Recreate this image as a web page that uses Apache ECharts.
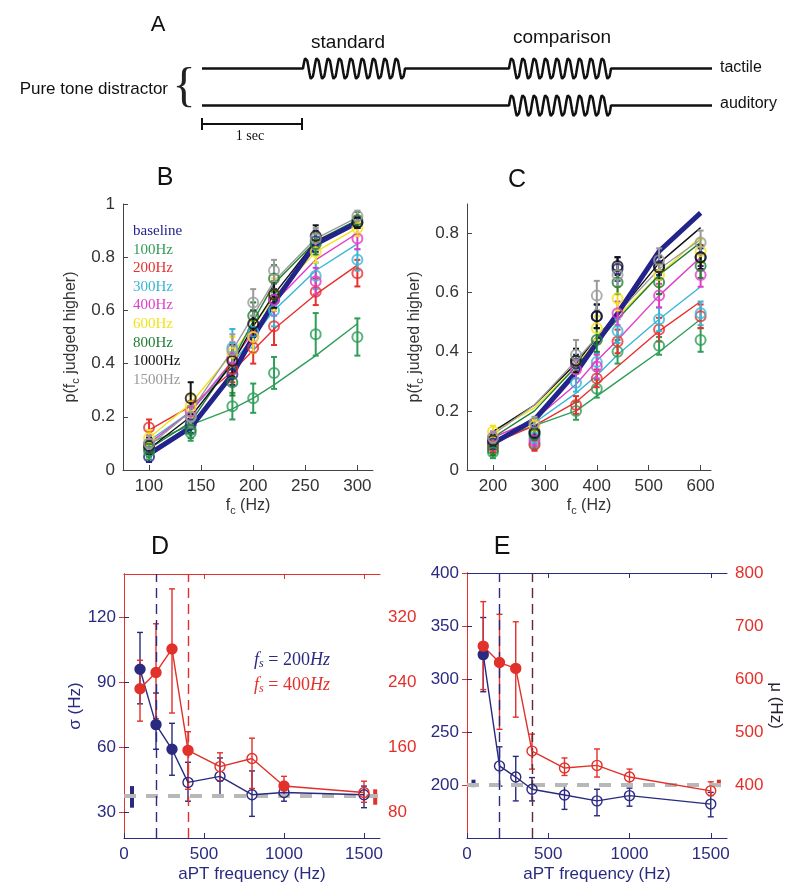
<!DOCTYPE html>
<html>
<head>
<meta charset="utf-8">
<script src="https://cdn.jsdelivr.net/npm/echarts@6/dist/echarts.min.js"></script>
<style>
  html, body { margin: 0; padding: 0; background: #fff; }
  #main { width: 800px; height: 896px; }
</style>
</head>
<body>
<div id="main"></div>
<script>
// ---- panel A : trial schematic (seconds) ----
const standardWindow = [1.01, 2.03]
const comparisonWindow = [3.07, 4.09]
const trialEnd = 5.1
const sineCycles = 9
const sineAmp = 0.3
const scaleBar = [[0, -0.5], [1, -0.5]]

// ---- panels B / C : psychometric curves ----
const conditions = ['baseline', '100Hz', '200Hz', '300Hz', '400Hz', '600Hz', '800Hz', '1000Hz', '1500Hz']
const condColors = ['#23238c', '#2e9e58', '#e8302e', '#38b6d6', '#e03cc8', '#f2e31a', '#1f7f33', '#111111', '#9a9a9a']

const fcB = [100, 140, 180, 200, 220, 260, 300]
const pointsB = [
  [0.05, 0.17, 0.36, 0.52, 0.64, 0.86, 0.93],
  [0.07, 0.14, 0.24, 0.27, 0.365, 0.51, 0.50],
  [0.16, 0.20, 0.38, 0.46, 0.54, 0.67, 0.74],
  [0.09, 0.20, 0.46, 0.52, 0.60, 0.73, 0.79],
  [0.10, 0.22, 0.42, 0.50, 0.64, 0.71, 0.87],
  [0.12, 0.24, 0.44, 0.50, 0.66, 0.82, 0.91],
  [0.08, 0.15, 0.33, 0.58, 0.72, 0.85, 0.94],
  [0.09, 0.27, 0.41, 0.55, 0.66, 0.88, 0.93],
  [0.10, 0.20, 0.45, 0.63, 0.75, 0.87, 0.955]
]
const fitB = [
  [0.06, 0.16, 0.36, 0.50, 0.63, 0.85, 0.93],
  [0.10, 0.17, 0.23, 0.27, 0.32, 0.43, 0.55],
  [0.15, 0.24, 0.37, 0.45, 0.53, 0.66, 0.77],
  [0.11, 0.22, 0.40, 0.50, 0.60, 0.75, 0.85],
  [0.10, 0.22, 0.41, 0.52, 0.63, 0.79, 0.89],
  [0.12, 0.25, 0.44, 0.54, 0.65, 0.82, 0.91],
  [0.08, 0.18, 0.41, 0.56, 0.70, 0.86, 0.94],
  [0.08, 0.20, 0.40, 0.54, 0.66, 0.86, 0.93],
  [0.09, 0.22, 0.45, 0.58, 0.71, 0.87, 0.95]
]
const errB = [
  [0.02, 0.03, 0.04, 0.04, 0.04, 0.04, 0.02],
  [0.03, 0.03, 0.05, 0.055, 0.06, 0.08, 0.07],
  [0.03, 0.04, 0.05, 0.06, 0.07, 0.05, 0.05],
  [0.03, 0.04, 0.07, 0.06, 0.06, 0.05, 0.04],
  [0.03, 0.04, 0.06, 0.06, 0.06, 0.05, 0.04],
  [0.03, 0.04, 0.06, 0.06, 0.06, 0.04, 0.03],
  [0.03, 0.03, 0.05, 0.05, 0.05, 0.04, 0.03],
  [0.03, 0.06, 0.06, 0.05, 0.05, 0.04, 0.02],
  [0.03, 0.04, 0.06, 0.05, 0.04, 0.04, 0.02]
]

const fcC = [200, 280, 360, 400, 440, 520, 600]
const pointsC = [
  [0.09, 0.13, 0.36, 0.52, 0.68, 0.69, 0.72],
  [0.06, 0.09, 0.20, 0.275, 0.40, 0.42, 0.44],
  [0.08, 0.085, 0.22, 0.31, 0.435, 0.475, 0.52],
  [0.10, 0.11, 0.295, 0.365, 0.47, 0.51, 0.53],
  [0.11, 0.10, 0.34, 0.35, 0.53, 0.59, 0.66],
  [0.13, 0.15, 0.37, 0.48, 0.58, 0.66, 0.74],
  [0.07, 0.12, 0.37, 0.44, 0.635, 0.635, 0.69],
  [0.10, 0.125, 0.37, 0.52, 0.69, 0.685, 0.72],
  [0.11, 0.16, 0.39, 0.59, 0.66, 0.71, 0.77]
]
const fitC = [
  [0.09, 0.17, 0.33, 0.43, 0.53, 0.74, 0.87],
  [0.10, 0.15, 0.20, 0.25, 0.30, 0.40, 0.51],
  [0.09, 0.15, 0.23, 0.29, 0.35, 0.47, 0.57],
  [0.10, 0.16, 0.26, 0.32, 0.39, 0.51, 0.62],
  [0.11, 0.17, 0.29, 0.37, 0.44, 0.59, 0.72],
  [0.13, 0.21, 0.35, 0.44, 0.52, 0.66, 0.79],
  [0.11, 0.20, 0.35, 0.43, 0.51, 0.66, 0.77],
  [0.13, 0.22, 0.36, 0.45, 0.53, 0.70, 0.82],
  [0.12, 0.22, 0.37, 0.45, 0.53, 0.68, 0.78]
]
const errC = [
  [0.02, 0.02, 0.03, 0.04, 0.04, 0.03, 0.03],
  [0.02, 0.02, 0.03, 0.03, 0.04, 0.03, 0.04],
  [0.02, 0.02, 0.03, 0.03, 0.04, 0.04, 0.04],
  [0.02, 0.02, 0.03, 0.03, 0.04, 0.04, 0.04],
  [0.02, 0.02, 0.03, 0.04, 0.04, 0.04, 0.04],
  [0.02, 0.02, 0.04, 0.04, 0.04, 0.04, 0.04],
  [0.02, 0.02, 0.04, 0.04, 0.04, 0.04, 0.04],
  [0.02, 0.02, 0.04, 0.04, 0.03, 0.04, 0.04],
  [0.02, 0.02, 0.05, 0.05, 0.04, 0.04, 0.04]
]

// ---- panels D / E : sigma and mu vs distractor frequency ----
const aptFreq = [100, 200, 300, 400, 600, 800, 1000, 1500]
const standardFreqs = [200, 400]

const sigma200 = [96, 70.4, 59, 43.7, 46.5, 38, 39, 38]
const sigma200Lo = [80, 59, 47, 35, 37, 28, 35, 32]
const sigma200Hi = [113, 85, 71, 53, 55, 49, 43, 42]
const sigma200Filled = [1, 1, 1, 0, 0, 0, 0, 0]
const sigma400 = [232, 252, 281, 156, 136, 146, 112, 104]
const sigma400Lo = [192, 195, 202, 108, 118, 109, 104, 92]
const sigma400Hi = [267, 312, 355, 179, 153, 171, 124, 118]
const sigma400Filled = [1, 1, 1, 1, 0, 0, 1, 0]
const sigmaBase200 = [50, 32, 42]
const sigmaBase400 = [1570, 89, 108]
const sigmaBaseline = 37.5

const mu200 = [323, 218, 207.5, 196, 190.6, 185, 190, 182]
const mu200Lo = [288, 199, 185, 185, 177, 171, 180, 170]
const mu200Hi = [358, 236, 227, 207, 201, 196, 197, 193]
const mu200Filled = [1, 0, 0, 0, 0, 0, 0, 0]
const mu400 = [662, 631, 620, 464, 432, 437, 415, 389]
const mu400Lo = [580, 505, 528, 430, 418, 415, 400, 380]
const mu400Hi = [746, 722, 708, 496, 451, 468, 430, 406]
const mu400Filled = [1, 1, 1, 0, 0, 0, 0, 0]
const muBase200 = [40, 198, 205]
const muBase400 = [1550, 396, 410]
const muBaseline = 200

const NAVY = '#2a2a80'
const RED = '#e2302a'
const SANS = 'Liberation Sans'
const SERIF = 'Liberation Serif'

const chart = echarts.init(document.getElementById('main'))

// stimulus drawing for panel A
function sineSegment(t0, t1, level) {
  const pts = []
  const n = sineCycles * 16
  for (let i = 0; i <= n; i++) {
    const t = t0 + (t1 - t0) * i / n
    pts.push([t, level + sineAmp * Math.sin(2 * Math.PI * sineCycles * i / n)])
  }
  return pts
}
const tactileTrack = [[0, 1], [standardWindow[0], 1]]
  .concat(sineSegment(standardWindow[0], standardWindow[1], 1))
  .concat([[comparisonWindow[0], 1]])
  .concat(sineSegment(comparisonWindow[0], comparisonWindow[1], 1))
  .concat([[trialEnd, 1]])
const auditoryTrack = [[0, 0], [comparisonWindow[0], 0]]
  .concat(sineSegment(comparisonWindow[0], comparisonWindow[1], 0))
  .concat([[trialEnd, 0]])

// 误差线
function errorBars(name, xIdx, yIdx, data, color, lw, cap, z) {
  return {
    name: name, type: 'custom', xAxisIndex: xIdx, yAxisIndex: yIdx, z: z || 3,
    silent: true, data: data, encode: { x: 0, y: [1, 2] },
    renderItem: function (params, api) {
      const x = api.value(0)
      const a = api.coord([x, api.value(1)])
      const b = api.coord([x, api.value(2)])
      const st = { stroke: color, lineWidth: lw }
      const ch = [{ type: 'line', shape: { x1: a[0], y1: a[1], x2: b[0], y2: b[1] }, style: st }]
      if (cap > 0) {
        ch.push({ type: 'line', shape: { x1: a[0] - cap, y1: a[1], x2: a[0] + cap, y2: a[1] }, style: st })
        ch.push({ type: 'line', shape: { x1: b[0] - cap, y1: b[1], x2: b[0] + cap, y2: b[1] }, style: st })
      }
      return { type: 'group', children: ch }
    }
  }
}

const series = []
// panel A
series.push({ type: 'line', xAxisIndex: 0, yAxisIndex: 0, data: tactileTrack, showSymbol: false, symbol: 'none',
  lineStyle: { color: '#111', width: 2.5 }, silent: true })
series.push({ type: 'line', xAxisIndex: 0, yAxisIndex: 0, data: auditoryTrack, showSymbol: false, symbol: 'none',
  lineStyle: { color: '#111', width: 2.5 }, silent: true })
series.push({ type: 'line', xAxisIndex: 0, yAxisIndex: 0, data: scaleBar, symbol: 'rect', symbolSize: [2, 12],
  itemStyle: { color: '#111' }, lineStyle: { color: '#111', width: 2 }, silent: true })

// panels B and C
function psychPanel(xIdx, yIdx, fc, pts, fits, errs) {
  conditions.forEach((name, k) => {
    const c = condColors[k]
    const isBase = k === 0
    series.push({
      name: name, type: 'line', xAxisIndex: xIdx, yAxisIndex: yIdx, symbol: 'none',
      data: fc.map((x, i) => [x, fits[k][i]]),
      lineStyle: { color: c, width: isBase ? 5 : 1.4 }, z: isBase ? 4 : 2, silent: true
    })
    series.push(errorBars(name, xIdx, yIdx, fc.map((x, i) => [x, pts[k][i] - errs[k][i], pts[k][i] + errs[k][i]]), c, 2, 3, 5))
    series.push({
      name: name, type: 'scatter', xAxisIndex: xIdx, yAxisIndex: yIdx, symbol: 'circle', symbolSize: 10,
      data: fc.map((x, i) => [x, pts[k][i]]),
      itemStyle: { color: 'rgba(255,255,255,0)', borderColor: c, borderWidth: 2 }, z: 6, silent: true
    })
  })
}
psychPanel(1, 1, fcB, pointsB, fitB, errB)
psychPanel(2, 2, fcC, pointsC, fitC, errC)

// panels D and E
function freqLine(xIdx, yIdx, vals, filled, color, vline) {
  const s = {
    type: 'line', xAxisIndex: xIdx, yAxisIndex: yIdx, symbol: 'circle', symbolSize: 10,
    lineStyle: { color: color, width: 1.4 }, z: 5, silent: true,
    data: aptFreq.map((x, i) => ({
      value: [x, vals[i]],
      itemStyle: { color: filled[i] ? color : 'rgba(255,255,255,0)', borderColor: color, borderWidth: 1.4 }
    }))
  }
  if (vline) {
    s.markLine = { silent: true, symbol: ['none', 'none'], label: { show: false },
      lineStyle: { color: vline.color, type: [10, 6], width: 1.4 }, data: [{ xAxis: vline.x }] }
  }
  return s
}
function baselineRef(xIdx, yIdx, y) {
  return { type: 'line', xAxisIndex: xIdx, yAxisIndex: yIdx, data: [], silent: true, z: 1,
    markLine: { silent: true, symbol: ['none', 'none'], label: { show: false },
      lineStyle: { color: '#b8b8b8', type: [12, 10], width: 4 }, data: [{ yAxis: y }] } }
}
// D
series.push(baselineRef(3, 3, sigmaBaseline))
series.push(errorBars('', 3, 3, aptFreq.map((x, i) => [x, sigma200Lo[i], sigma200Hi[i]]), NAVY, 1.4, 3))
series.push(errorBars('', 3, 4, aptFreq.map((x, i) => [x, sigma400Lo[i], sigma400Hi[i]]), RED, 1.4, 3))
series.push(errorBars('', 3, 3, [sigmaBase200], NAVY, 4, 0))
series.push(errorBars('', 3, 4, [sigmaBase400], RED, 4, 0))
series.push(freqLine(3, 3, sigma200, sigma200Filled, NAVY, { x: standardFreqs[0], color: NAVY }))
series.push(freqLine(3, 4, sigma400, sigma400Filled, RED, { x: standardFreqs[1], color: RED }))
// E
series.push(baselineRef(5, 5, muBaseline))
series.push(errorBars('', 5, 5, aptFreq.map((x, i) => [x, mu200Lo[i], mu200Hi[i]]), NAVY, 1.4, 3))
series.push(errorBars('', 5, 6, aptFreq.map((x, i) => [x, mu400Lo[i], mu400Hi[i]]), RED, 1.4, 3))
series.push(errorBars('', 5, 5, [muBase200], NAVY, 4, 0))
series.push(errorBars('', 5, 6, [muBase400], RED, 4, 0))
series.push(freqLine(5, 5, mu200, mu200Filled, NAVY, { x: standardFreqs[0], color: NAVY }))
series.push(freqLine(5, 6, mu400, mu400Filled, RED, { x: standardFreqs[1], color: '#5a2a3a' }))

const tickIn = (color) => ({ show: true, inside: true, length: 5, lineStyle: { color: color } })
const labelStyle = (color) => ({ color: color, fontSize: 17, fontFamily: SANS, margin: 8,
  formatter: (v) => String(Math.round(v * 100) / 100) })
const subRich = { sub: { fontSize: 11, fontFamily: SANS, padding: [9, 0, 0, 0] } }
const GRAY = '#333'

const xAxis = [
  { gridIndex: 0, type: 'value', min: 0, max: trialEnd, show: false },
  { gridIndex: 1, type: 'value', min: 75, max: 315,
    axisLine: { lineStyle: { color: '#444' } }, splitLine: { show: false },
    axisTick: Object.assign(tickIn('#444'), { customValues: [100, 150, 200, 250, 300] }),
    axisLabel: Object.assign(labelStyle(GRAY), { customValues: [100, 150, 200, 250, 300] }),
    name: 'f{sub|c} (Hz)', nameLocation: 'middle', nameGap: 26,
    nameTextStyle: { fontSize: 16, fontFamily: SANS, color: GRAY, rich: subRich } },
  { gridIndex: 2, type: 'value', min: 150, max: 620,
    axisLine: { lineStyle: { color: '#444' } }, splitLine: { show: false },
    axisTick: Object.assign(tickIn('#444'), { customValues: [200, 300, 400, 500, 600] }),
    axisLabel: Object.assign(labelStyle(GRAY), { customValues: [200, 300, 400, 500, 600] }),
    name: 'f{sub|c} (Hz)', nameLocation: 'middle', nameGap: 26,
    nameTextStyle: { fontSize: 16, fontFamily: SANS, color: GRAY, rich: subRich } },
  { gridIndex: 3, type: 'value', min: 0, max: 1600, position: 'bottom',
    axisLine: { lineStyle: { color: NAVY } }, splitLine: { show: false },
    axisTick: Object.assign(tickIn(NAVY), { customValues: [0, 500, 1000, 1500] }),
    axisLabel: Object.assign(labelStyle(NAVY), { customValues: [0, 500, 1000, 1500] }),
    name: 'aPT frequency (Hz)', nameLocation: 'middle', nameGap: 28,
    nameTextStyle: { fontSize: 17, fontFamily: SANS, color: NAVY } },
  { gridIndex: 3, type: 'value', min: 0, max: 1600, position: 'top',
    axisLine: { lineStyle: { color: RED } }, splitLine: { show: false },
    axisTick: Object.assign(tickIn(RED), { customValues: [500, 1000, 1500] }), axisLabel: { show: false } },
  { gridIndex: 4, type: 'value', min: 0, max: 1600, position: 'bottom',
    axisLine: { lineStyle: { color: NAVY } }, splitLine: { show: false },
    axisTick: Object.assign(tickIn(NAVY), { customValues: [0, 500, 1000, 1500] }),
    axisLabel: Object.assign(labelStyle(NAVY), { customValues: [0, 500, 1000, 1500] }),
    name: 'aPT frequency (Hz)', nameLocation: 'middle', nameGap: 28,
    nameTextStyle: { fontSize: 17, fontFamily: SANS, color: NAVY } },
  { gridIndex: 4, type: 'value', min: 0, max: 1600, position: 'top',
    axisLine: { lineStyle: { color: NAVY } }, splitLine: { show: false },
    axisTick: Object.assign(tickIn(NAVY), { customValues: [500, 1000, 1500] }), axisLabel: { show: false } }
]

const yAxis = [
  { gridIndex: 0, type: 'value', min: -1.2, max: 1.5, show: false },
  { gridIndex: 1, type: 'value', min: 0, max: 1, interval: 0.2,
    axisLine: { show: true, lineStyle: { color: '#444' } }, splitLine: { show: false },
    axisTick: tickIn('#444'), axisLabel: labelStyle(GRAY),
    name: 'p(f{sub|c} judged higher)', nameLocation: 'middle', nameGap: 42,
    nameTextStyle: { fontSize: 16, fontFamily: SANS, color: GRAY, rich: subRich } },
  { gridIndex: 2, type: 'value', min: 0, max: 0.9,
    axisLine: { show: true, lineStyle: { color: '#444' } }, splitLine: { show: false },
    axisTick: Object.assign(tickIn('#444'), { customValues: [0, 0.2, 0.4, 0.6, 0.8] }),
    axisLabel: Object.assign(labelStyle(GRAY), { customValues: [0, 0.2, 0.4, 0.6, 0.8] }),
    name: 'p(f{sub|c} judged higher)', nameLocation: 'middle', nameGap: 42,
    nameTextStyle: { fontSize: 16, fontFamily: SANS, color: GRAY, rich: subRich } },
  { gridIndex: 3, type: 'value', min: 18, max: 140, position: 'left',
    axisLine: { show: true, lineStyle: { color: NAVY } }, splitLine: { show: false },
    axisTick: Object.assign(tickIn(NAVY), { customValues: [30, 60, 90, 120] }),
    axisLabel: Object.assign(labelStyle(NAVY), { customValues: [30, 60, 90, 120] }),
    name: 'σ (Hz)', nameLocation: 'middle', nameGap: 34,
    nameTextStyle: { fontSize: 17, fontFamily: SANS, color: NAVY } },
  { gridIndex: 3, type: 'value', min: 48, max: 320 + 20 * 8 / 3, position: 'right',
    axisLine: { show: true, lineStyle: { color: RED } }, splitLine: { show: false },
    axisTick: Object.assign(tickIn(RED), { customValues: [80, 160, 240, 320] }),
    axisLabel: Object.assign(labelStyle(RED), { customValues: [80, 160, 240, 320] }) },
  { gridIndex: 4, type: 'value', min: 150, max: 400, position: 'left',
    axisLine: { show: true, lineStyle: { color: NAVY } }, splitLine: { show: false },
    axisTick: Object.assign(tickIn(NAVY), { customValues: [200, 250, 300, 350, 400] }),
    axisLabel: Object.assign(labelStyle(NAVY), { customValues: [200, 250, 300, 350, 400] }) },
  { gridIndex: 4, type: 'value', min: 300, max: 800, position: 'right',
    axisLine: { show: true, lineStyle: { color: RED } }, splitLine: { show: false },
    axisTick: Object.assign(tickIn(RED), { customValues: [400, 500, 600, 700, 800] }),
    axisLabel: Object.assign(labelStyle(RED), { customValues: [400, 500, 600, 700, 800] }),
    name: 'μ (Hz)', nameLocation: 'middle', nameGap: 36, nameRotate: -90,
    nameTextStyle: { fontSize: 17, fontFamily: SANS, color: '#2a2030' } }
]

const txt = (text, x, y, size, opts) => ({
  type: 'text', x: x, y: y, silent: true, z: 100,
  style: Object.assign({ text: text, fontSize: size, fontFamily: SANS, fill: '#111',
    align: 'center', verticalAlign: 'middle' }, opts || {})
})
const graphic = [
  txt('A', 158, 25, 22),
  txt('standard', 348, 43, 19),
  txt('comparison', 562, 38, 19),
  txt('tactile', 720, 68, 16, { align: 'left' }),
  txt('auditory', 720, 104, 16, { align: 'left' }),
  txt('Pure tone distractor', 168, 89, 17, { align: 'right' }),
  txt('{', 184, 88, 48, { fontFamily: SERIF, fill: '#222' }),
  txt('1 sec', 250, 136, 14, { fontFamily: SERIF }),
  txt('B', 165, 178, 25),
  txt('C', 517, 180, 25),
  txt('D', 160, 547, 25),
  txt('E', 502, 547, 25)
]
conditions.forEach((name, k) => {
  graphic.push(txt(name, 133, 231 + k * 18.6, 15,
    { fontFamily: SERIF, fill: condColors[k], align: 'left' }))
})
const fsRich = (col) => ({
  i: { fontFamily: SERIF, fontStyle: 'italic', fontSize: 18, fill: col },
  s: { fontFamily: SERIF, fontStyle: 'italic', fontSize: 12, fill: col, padding: [8, 0, 0, 0] },
  n: { fontFamily: SERIF, fontSize: 18, fill: col }
})
graphic.push(txt('{i|f}{s|s}{n| = ' + standardFreqs[0] + '}{i|Hz}', 292, 660, 18, { rich: fsRich(NAVY) }))
graphic.push(txt('{i|f}{s|s}{n| = ' + standardFreqs[1] + '}{i|Hz}', 292, 685, 18, { rich: fsRich(RED) }))

chart.setOption({
  animation: false,
  backgroundColor: '#fff',
  grid: [
    { left: 202, top: 50, width: 510, height: 100 },
    { left: 123, top: 204, width: 250, height: 266 },
    { left: 467, top: 204, width: 244, height: 266 },
    { left: 124, top: 574, width: 256, height: 264 },
    { left: 467, top: 573, width: 260, height: 265 }
  ],
  xAxis: xAxis,
  yAxis: yAxis,
  series: series,
  graphic: graphic
})
</script>
</body>
</html>
